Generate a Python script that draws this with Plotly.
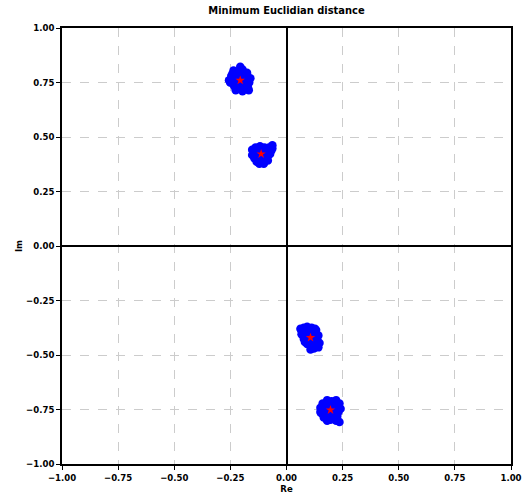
import plotly.graph_objects as go

# Ideal constellation points (Re, Im)
ref_re = [-0.206, -0.113, 0.107, 0.196]
ref_im = [0.760, 0.422, -0.420, -0.752]

# Received samples around each point (offsets)
c1_dx = [-0.040, -0.020, 0.010, 0.030, 0.045, -0.050, -0.030, 0.000, 0.020, 0.040,
         -0.035, -0.010, 0.015, 0.035, -0.045, -0.020, 0.005, 0.025, -0.015, 0.010,
         -0.030, 0.030, 0.000, -0.005, 0.020, 0.038, -0.025]
c1_dy = [0.020, 0.040, 0.050, 0.030, 0.010, 0.000, -0.020, -0.040, -0.030, -0.010,
         0.030, 0.015, -0.015, -0.035, -0.010, -0.045, 0.025, 0.000, 0.000, -0.050,
         0.045, 0.035, 0.062, -0.020, 0.035, -0.045, -0.030]
c2_dx = [-0.040, -0.025, -0.005, 0.015, 0.035, 0.050, -0.035, -0.015, 0.005, 0.025,
         0.045, -0.030, -0.010, 0.010, 0.030, -0.020, 0.000, 0.020, 0.040, -0.040,
         0.012, -0.008, 0.030, 0.050, -0.028]
c2_dy = [0.020, 0.030, 0.035, 0.030, 0.030, 0.040, 0.000, 0.010, 0.015, 0.010,
         0.015, -0.020, -0.010, -0.005, -0.010, -0.035, -0.030, -0.025, 0.000, -0.005,
         -0.045, -0.045, -0.030, 0.025, 0.005]
c3_dx = [-0.045, -0.030, -0.015, 0.005, 0.025, -0.040, -0.020, 0.000, 0.020, 0.035,
         -0.030, -0.010, 0.010, 0.030, 0.040, -0.015, 0.005, 0.025, -0.025, 0.015,
         0.000, 0.035, -0.040, 0.020]
c3_dy = [0.040, 0.045, 0.050, 0.045, 0.035, 0.015, 0.025, 0.025, 0.020, 0.010,
         -0.005, 0.000, 0.000, -0.010, -0.025, -0.030, -0.030, -0.040, -0.020, -0.050,
         -0.055, -0.045, 0.030, 0.040]
c4_dx = [-0.035, -0.015, 0.005, 0.025, 0.040, -0.045, -0.025, 0.000, 0.020, 0.045,
         -0.040, -0.020, 0.010, 0.035, -0.030, -0.005, 0.015, 0.030, -0.015, 0.025,
         0.040, -0.045, 0.000, 0.020]
c4_dy = [0.030, 0.045, 0.040, 0.045, 0.030, 0.010, 0.015, 0.020, 0.015, 0.005,
         -0.015, -0.005, -0.005, -0.010, -0.035, -0.025, -0.030, -0.030, -0.050, -0.050,
         -0.055, -0.010, -0.045, 0.030]

clusters = [(c1_dx, c1_dy), (c2_dx, c2_dy), (c3_dx, c3_dy), (c4_dx, c4_dy)]

rx, ry = [], []
for (dx, dy), cx, cy in zip(clusters, ref_re, ref_im):
    rx += [cx + d for d in dx]
    ry += [cy + d for d in dy]

ticks = [-1.0, -0.75, -0.5, -0.25, 0.0, 0.25, 0.5, 0.75, 1.0]

fig = go.Figure()
fig.add_trace(go.Scatter(x=rx, y=ry, mode="markers",
                         marker=dict(color="#0000ff", size=8.5, line=dict(width=0)),
                         showlegend=False))
fig.add_trace(go.Scatter(x=ref_re, y=ref_im, mode="markers",
                         marker=dict(color="#ff0000", size=7, symbol="star", line=dict(width=0)),
                         showlegend=False))

fam = "DejaVu Sans Condensed, DejaVu Sans"
font = dict(family=fam, size=9.5, color="black", weight="bold")
axis = dict(range=[-1, 1], tickvals=ticks, tickformat=".2f",
            showgrid=True, gridcolor="#cccccc", griddash="dash", gridwidth=1,
            zeroline=True, zerolinecolor="black", zerolinewidth=1.5,
            showline=True, linecolor="black", linewidth=1.5, mirror=True,
            ticks="outside", ticklen=4, tickcolor="black", tickwidth=1,
            tickfont=font, automargin=False, ticklabeloverflow="allow")

fig.update_layout(
    width=522, height=495,
    margin=dict(l=62, r=11, t=28, b=31),
    paper_bgcolor="white", plot_bgcolor="white",
    font=font,
    title=dict(text="Minimum Euclidian distance", x=0.5, xanchor="center",
               xref="paper", y=1, yref="container", yanchor="top", pad=dict(t=6),
               font=dict(family=fam, size=11, color="black", weight="bold"),
               automargin=False),
    xaxis=dict(axis, title=dict(text="Re", font=font, standoff=0)),
    yaxis=dict(axis, title=dict(text="Im", font=font, standoff=2)),
)

fig.write_html("out.html")
